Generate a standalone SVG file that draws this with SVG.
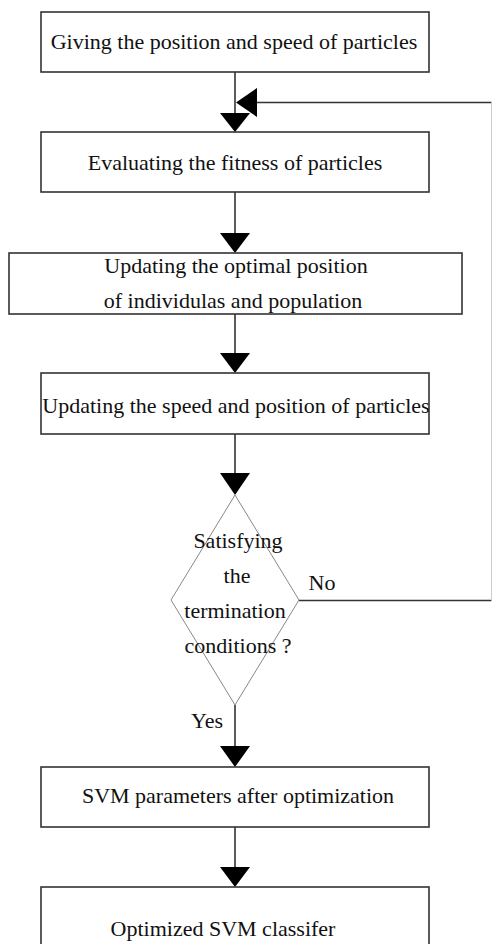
<svg xmlns="http://www.w3.org/2000/svg" width="492" height="944" viewBox="0 0 492 944">
<style>
.box{fill:#fff;stroke:#333;stroke-width:1.6}
.dia{fill:#fff;stroke:#888;stroke-width:1}
.ln{fill:none;stroke:#333;stroke-width:1.6}
.edge{fill:none;stroke:#ccc;stroke-width:1}
.ah{fill:#000}
.t{font-family:'Liberation Serif','DejaVu Serif','Times New Roman',serif;font-size:22px;fill:#111;text-anchor:middle}
</style>
<rect width="492" height="944" fill="#fff"/>
<g id="connectors">
<path class="ln" d="M235 72V114"/>
<path class="ah" d="M220 113H250L235 132Z"/>
<path class="ln" d="M235 192V234"/>
<path class="ah" d="M220 233H250L235 253Z"/>
<path class="ln" d="M235 314V354"/>
<path class="ah" d="M220 353H250L235 373Z"/>
<path class="ln" d="M235 434V474"/>
<path class="ah" d="M220 473H250L235 495Z"/>
<path class="ln" d="M235 705V747"/>
<path class="ah" d="M220 746H250L235 767Z"/>
<path class="ln" d="M235 827V868"/>
<path class="ah" d="M220 867H250L235 887Z"/>
<path class="ln" d="M299 600.5H491.5M491.5 102.5H256"/>
<path class="edge" d="M491.5 600.5V102.5"/>
<path class="ah" d="M257 88V117L236 102.5Z"/>
<text class="t" x="322" y="590">No</text>
<text class="t" x="207" y="728">Yes</text>
</g>
<g id="n1">
<rect class="box" x="41" y="12" width="388" height="60"/>
<text class="t" x="234" y="49">Giving the position and speed of particles</text>
</g>
<g id="n2">
<rect class="box" x="41" y="132" width="388" height="60"/>
<text class="t" x="235" y="170">Evaluating the fitness of particles</text>
</g>
<g id="n3">
<rect class="box" x="9" y="253" width="453" height="61"/>
<text class="t" x="236" y="273">Updating the optimal position</text>
<text class="t" x="233" y="308">of individulas and population</text>
</g>
<g id="n4">
<rect class="box" x="41" y="373" width="388" height="61"/>
<text class="t" x="236" y="413">Updating the speed and position of particles</text>
</g>
<g id="n5">
<path class="dia" d="M235 495L299 600L235 705L171 600Z"/>
<text class="t" x="238" y="548">Satisfying</text>
<text class="t" x="237" y="583">the</text>
<text class="t" x="235" y="618">termination</text>
<text class="t" x="238" y="653">conditions ?</text>
</g>
<g id="n6">
<rect class="box" x="41" y="767" width="388" height="60"/>
<text class="t" x="238" y="803">SVM parameters after optimization</text>
</g>
<g id="n7">
<rect class="box" x="41" y="887" width="388" height="70"/>
<text class="t" x="223" y="936">Optimized SVM classifer</text>
</g>
</svg>
